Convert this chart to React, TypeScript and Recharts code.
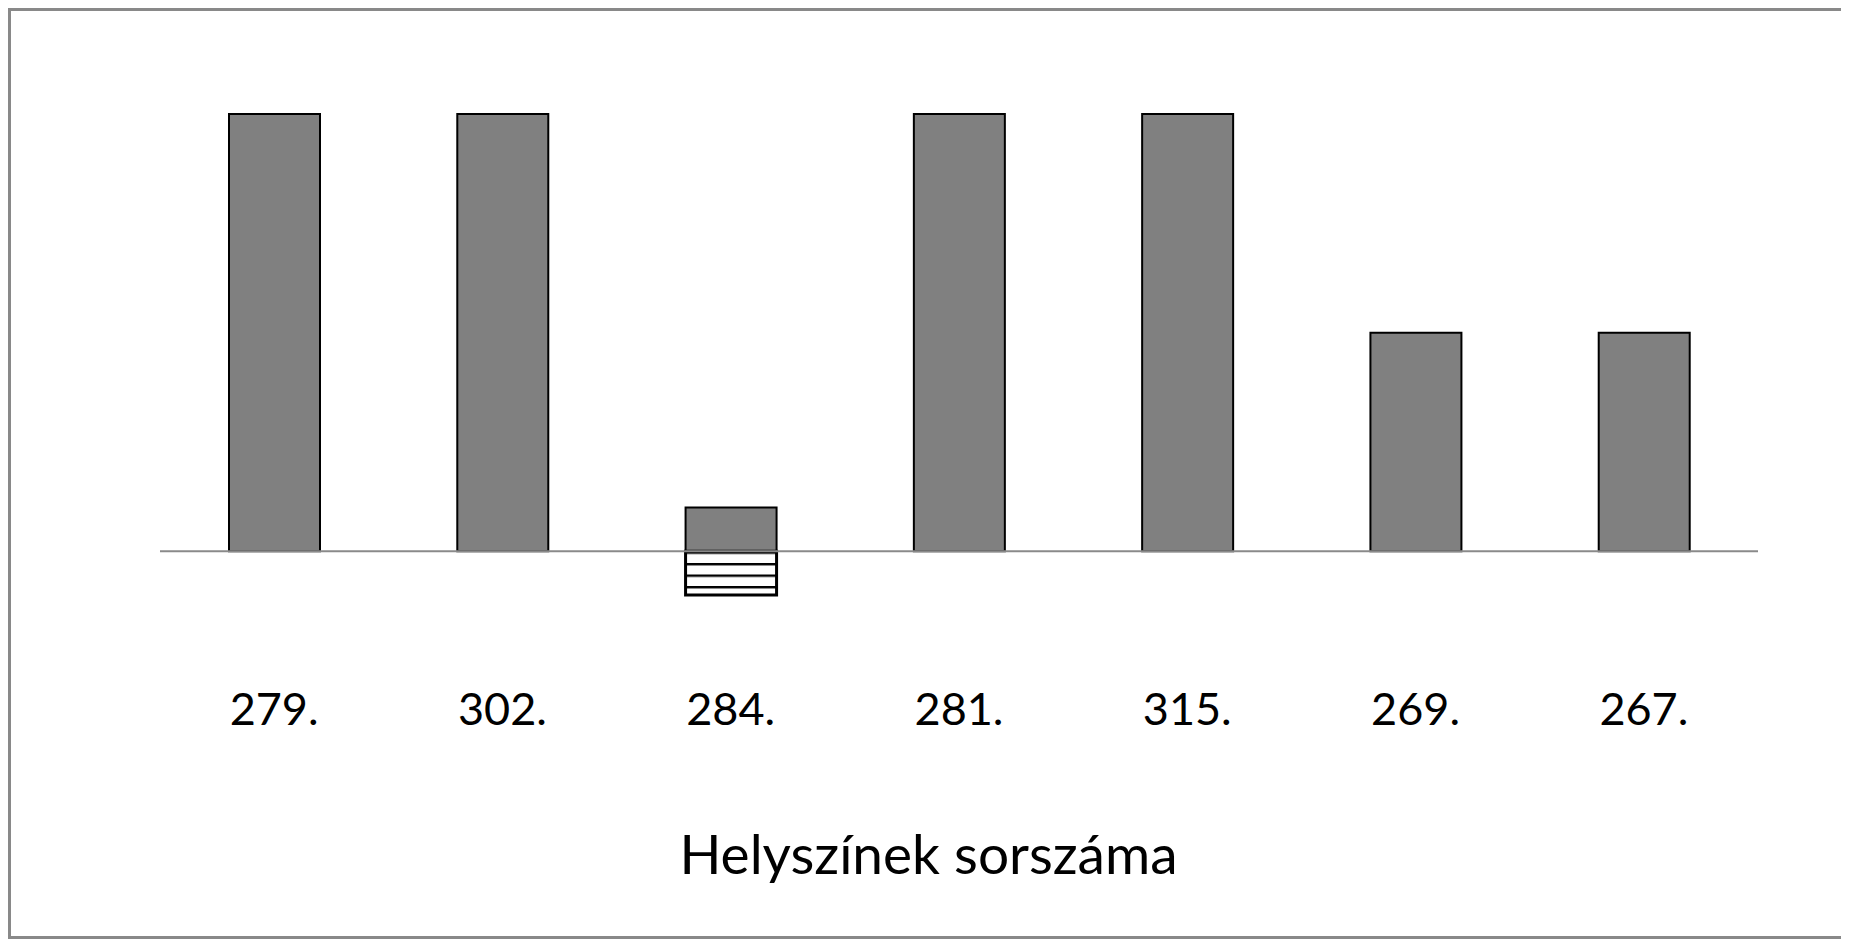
import { BarChart, Bar, XAxis, YAxis, ReferenceLine } from 'recharts'

// Helyszínek sorszáma (kategóriák)
const sites = ['279.', '302.', '284.', '281.', '315.', '269.', '267.']
// pozitív érték (szürke oszlop)
const positiveValues = [10, 10, 1, 10, 10, 5, 5]
// negatív érték (csíkos oszlop)
const negativeValues = [0, 0, -1, 0, 0, 0, 0]
const yDomain = [-1, 10]
const axisTitle = 'Helyszínek sorszáma'

const chartData = sites.map((site, i) => ({
  site,
  pos: positiveValues[i],
  neg: negativeValues[i],
}))

const FONT = 'Lato, "Open Sans", sans-serif'

function SiteTick({ x, y, payload }: any) {
  return (
    <text x={x} y={y + 122} textAnchor="middle" fill="#000" fontSize={45} fontFamily={FONT}>
      {payload.value}
    </text>
  )
}

export default function App() {
  return (
    <div
      style={{
        position: 'relative',
        width: 1841,
        height: 931,
        border: '3px solid #898989',
        boxSizing: 'border-box',
        background: '#fff',
      }}
    >
      <BarChart
        width={1835}
        height={925}
        data={chartData}
        stackOffset="sign"
        margin={{ top: 103, right: 88, bottom: 311, left: 149 }}
      >
        <defs>
          <pattern id="hlines" width="12" height="11.5" patternUnits="userSpaceOnUse">
            <rect width="12" height="11.5" fill="#fff" />
            <rect y="0" width="12" height="2.4" fill="#000" />
          </pattern>
        </defs>
        <XAxis
          dataKey="site"
          height={30}
          axisLine={false}
          tickLine={false}
          tick={<SiteTick />}
          interval={0}
        />
        <YAxis hide domain={yDomain} type="number" />
        <ReferenceLine y={0} stroke="#8a8a8a" strokeWidth={2} />
        <Bar dataKey="pos" stackId="a" barSize={91} fill="#808080" stroke="#000" strokeWidth={2} isAnimationActive={false} />
        <Bar dataKey="neg" stackId="a" barSize={91} fill="url(#hlines)" stroke="#000" strokeWidth={3} isAnimationActive={false} />
      </BarChart>
      <div
        style={{
          position: 'absolute',
          left: 0,
          right: 0,
          top: 815,
          textAlign: 'center',
          fontFamily: FONT,
          fontSize: 55,
          lineHeight: '55px',
          color: '#000',
        }}
      >
        {axisTitle}
      </div>
    </div>
  )
}
